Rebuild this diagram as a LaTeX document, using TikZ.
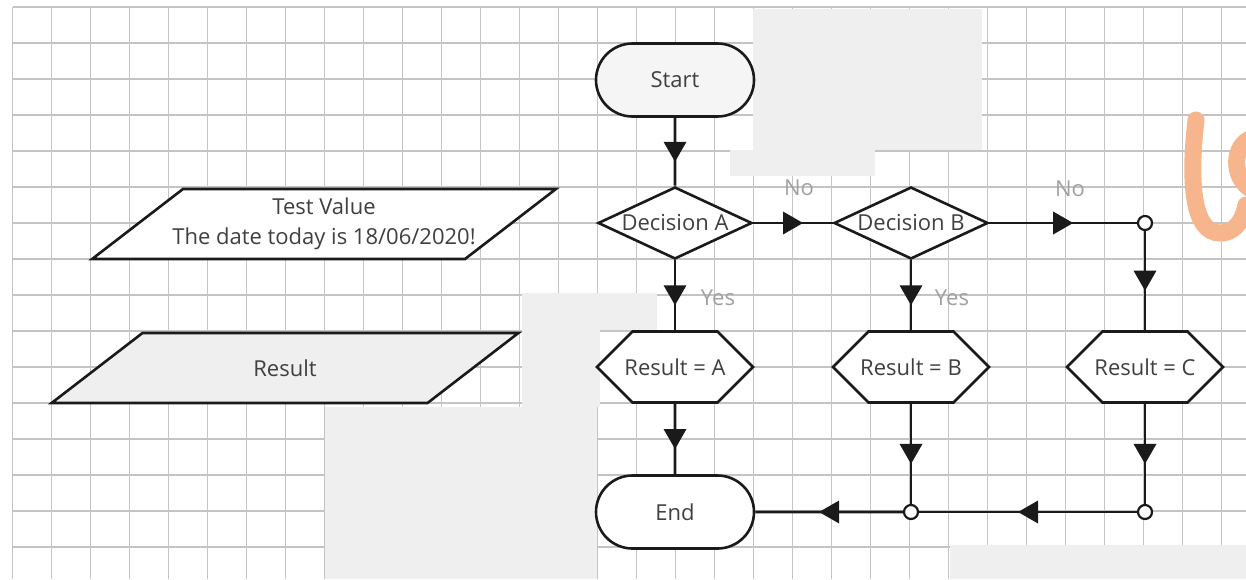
\documentclass[tikz,border=0pt]{standalone}
\usepackage{fontspec}
\setmainfont{Open Sans}
\usetikzlibrary{positioning,shapes.geometric,shapes.misc,shapes.symbols,decorations.markings}
\definecolor{ctrazo}{HTML}{1A1A1A}
\definecolor{ctexto}{HTML}{404040}
\definecolor{cetq}{HTML}{A0A0A0}
\definecolor{crejilla}{HTML}{C4C4C4}
\definecolor{cmancha}{HTML}{EFEFEF}
\definecolor{cnaranja}{HTML}{F6B58C}
\newcommand{\cero}[1]{\makebox[0pt]{#1}}
\newcommand{\caja}[2]{\parbox[c][35pt][c]{#1}{\centering #2}}
\tikzset{
  forma/.style={draw=ctrazo,line width=1.3pt,fill=white,text=ctexto,align=center,
                inner sep=0pt,font=\fontsize{11}{15}\selectfont},
  terminal/.style={forma,rounded rectangle,minimum width=79pt,minimum height=36.5pt},
  decision/.style={forma,diamond,minimum width=77pt,minimum height=36pt},
  resultado/.style={forma,signal,signal to=east and west,signal pointer angle=90,
                    minimum width=78pt,minimum height=35.5pt},
  datos/.style={forma,trapezium,trapezium left angle=37.6,trapezium right angle=142.4},
  union/.style={draw=ctrazo,line width=1.1pt,fill=white,circle,minimum size=7pt,inner sep=0pt},
  flecha/.style={draw=ctrazo,line width=1.3pt,postaction={decorate},
    decoration={markings,mark=at position 0.5 with
      {\fill[ctrazo] (-5pt,-5.75pt) -- (5pt,0pt) -- (-5pt,5.75pt) -- cycle;}}},
  et/.style={text=cetq,font=\fontsize{11}{13}\selectfont,inner sep=1pt},
  mancha/.style={fill=cmancha,draw=none},
  rejilla/.style={draw=crejilla,line width=0.9pt},
}

\begin{document}
\begin{tikzpicture}[x=0.5pt,y=-0.5pt]
\useasboundingbox (0,0) rectangle (1246,579);

% rejilla de fondo
\foreach \i in {0,...,31} \draw[rejilla] (12.5+39*\i,7.3) -- (12.5+39*\i,579);
\foreach \j in {0,...,15} \draw[rejilla] (12.5,7.3+36*\j) -- (1246,7.3+36*\j);

% zonas borradas
\fill[mancha] (753,9) rectangle (982,150);
\fill[mancha] (730,150) rectangle (875,176);
\fill[mancha] (522,293) rectangle (657,330);
\fill[mancha] (522,330) rectangle (600,407);
\fill[mancha] (325,407) rectangle (597,579);
\fill[mancha] (950,545) rectangle (1246,579);

\draw[cnaranja,line width=8.5pt,line cap=round] (1196,120) .. controls (1189,180) and (1192,233) .. (1220,233)
  .. controls (1238,233) and (1244,215) .. (1246,205);
\draw[cnaranja,line width=8.5pt,line cap=round] (1252,138) .. controls (1232,145) and (1231,178) .. (1252,190);

\node[datos] (prueba) at (324,224)
  {\caja{141pt}{\cero{Test Value}\\\cero{The date today is 18/06/2020!}}};
\node[datos,fill=cmancha] (res) at (285,368) {\caja{142.5pt}{Result}};

\node[terminal,fill=cmancha!60] (ini) at (675,80) {Start};
\node[decision] (da) at (675,223) {\cero{Decision A}};
\node[decision] (db) at (911,223) {\cero{Decision B}};
\node[union] (jc) at (1145,223) {};
\node[resultado] (ra) at (675,367) {\cero{Result = A}};
\node[resultado] (rb) at (911,367) {\cero{Result = B}};
\node[resultado] (rc) at (1145,367) {\cero{Result = C}};
\node[terminal] (fin) at (675,512) {End};
\node[union] (jb) at (911,512) {};
\node[union] (je) at (1145,512) {};

\node[et] (no1) at (799,188) {No};
\node[et] (no2) at (1070,189) {No};
\node[et] (si1) at (718,298) {Yes};
\node[et] (si2) at (952,298) {Yes};

\draw[flecha] (ini) -- (da);
\draw[flecha] (da) -- (db);
\draw[flecha] (db) -- (jc);
\draw[flecha] (jc) -- (rc);
\draw[flecha] (da) -- (ra);
\draw[flecha] (db) -- (rb);
\draw[flecha] (ra) -- (fin);
\draw[flecha] (rb) -- (jb);
\draw[flecha] (rc) -- (je);
\draw[flecha] (je) -- (jb);
\draw[flecha] (jb) -- (fin);

\end{tikzpicture}
\end{document}
